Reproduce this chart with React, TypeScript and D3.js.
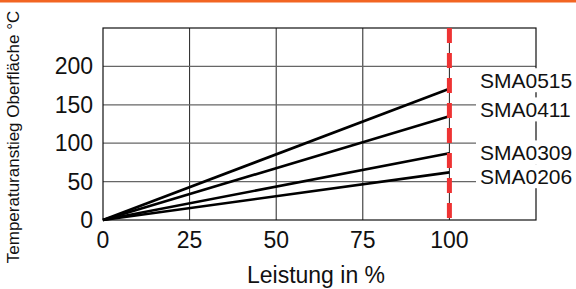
import React, { useEffect, useRef } from 'react';
import * as d3 from 'd3';

const models = ['SMA0515', 'SMA0411', 'SMA0309', 'SMA0206'];
const riseAt100 = [171, 135, 87, 62];
const labelAt = [182, 144, 88, 57];
const xTicks = [0, 25, 50, 75, 100];
const yTicks = [0, 50, 100, 150, 200];
const ratedPower = 100;

const App = () => {
  const ref = useRef<SVGSVGElement>(null);

  useEffect(() => {
    const svg = d3.select(ref.current);
    svg.selectAll('*').remove();

    const width = 576, height = 289;
    const left = 103, right = 536, top = 28, bottom = 220;
    const font = 'Liberation Sans, Arial, sans-serif';

    svg.attr('width', width).attr('height', height);

    const x = d3.scaleLinear().domain([0, 125]).range([left, right]);
    const y = d3.scaleLinear().domain([0, 250]).range([bottom, top]);

    // orange strip at the top
    svg.append('rect').attr('x', 0).attr('y', 0).attr('width', width).attr('height', 2.5).attr('fill', '#f26522');

    const g = svg.append('g');

    g.selectAll('.vgrid')
      .data(xTicks.slice(1))
      .join('line')
      .attr('x1', d => x(d)).attr('x2', d => x(d))
      .attr('y1', top).attr('y2', bottom)
      .attr('stroke', '#222').attr('stroke-width', 1);

    g.selectAll('.hgrid')
      .data(yTicks.slice(1))
      .join('line')
      .attr('x1', left).attr('x2', right)
      .attr('y1', d => y(d)).attr('y2', d => y(d))
      .attr('stroke', '#666').attr('stroke-width', 1.2);

    g.append('rect')
      .attr('x', left).attr('y', top)
      .attr('width', right - left).attr('height', bottom - top)
      .attr('fill', 'none').attr('stroke', '#111').attr('stroke-width', 1.2);

    const line = d3.line<[number, number]>().x(d => x(d[0])).y(d => y(d[1]));
    riseAt100.forEach(v => {
      g.append('path')
        .attr('d', line([[0, 0], [ratedPower, v]]))
        .attr('fill', 'none').attr('stroke', '#000').attr('stroke-width', 2.6);
    });

    g.append('line')
      .attr('x1', x(ratedPower)).attr('x2', x(ratedPower))
      .attr('y1', top).attr('y2', bottom)
      .attr('stroke', '#ee3333').attr('stroke-width', 5)
      .attr('stroke-dasharray', '15,10');

    models.forEach((m, i) => {
      const cy = y(labelAt[i]);
      g.append('rect')
        .attr('x', 476).attr('y', cy - 12)
        .attr('width', 100).attr('height', 24)
        .attr('fill', '#fff');
      g.append('text')
        .attr('x', 480).attr('y', cy).attr('dy', '0.35em')
        .attr('font-family', font).attr('font-size', 21)
        .attr('fill', '#111').text(m);
    });

    g.selectAll('.xt')
      .data(xTicks)
      .join('text')
      .attr('x', d => x(d)).attr('y', 248)
      .attr('text-anchor', 'middle')
      .attr('font-family', font).attr('font-size', 23)
      .attr('fill', '#111').text(d => d);

    g.selectAll('.yt')
      .data(yTicks)
      .join('text')
      .attr('x', 93).attr('y', d => y(d)).attr('dy', '0.35em')
      .attr('text-anchor', 'end')
      .attr('font-family', font).attr('font-size', 23)
      .attr('fill', '#111').text(d => d);

    svg.append('text')
      .attr('x', 316).attr('y', 283)
      .attr('text-anchor', 'middle')
      .attr('font-family', font).attr('font-size', 23)
      .attr('fill', '#111').text('Leistung in %');

    svg.append('text')
      .attr('transform', 'translate(19,137) rotate(-90)')
      .attr('text-anchor', 'middle')
      .attr('font-family', font).attr('font-size', 17)
      .attr('fill', '#111').text('Temperaturanstieg Oberfläche °C');
  }, []);

  return <svg ref={ref} style={{ position: 'absolute', left: 0, top: 0 }}></svg>;
};

export default App;
